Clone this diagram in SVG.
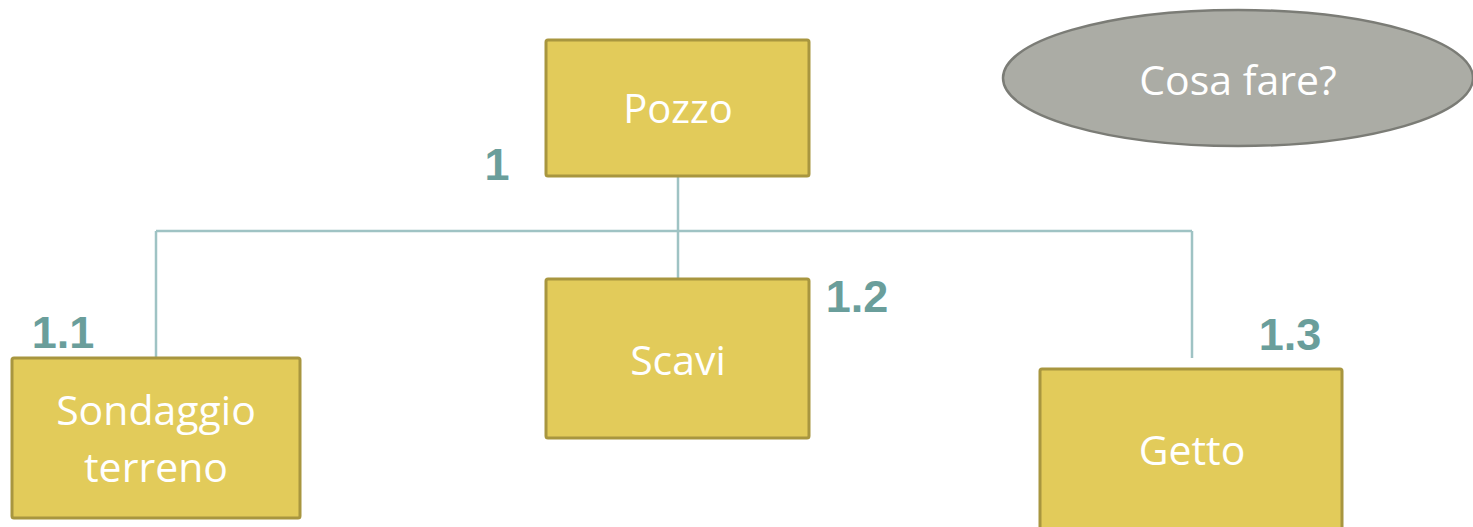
<svg xmlns="http://www.w3.org/2000/svg" width="1473" height="527" viewBox="0 0 1473 527">
  <style>
    .box { fill: #e2cb5a; stroke: #a8963f; stroke-width: 3; }
    .oval { fill: #abaca5; stroke: #7b7c76; stroke-width: 2.5; }
    .t { fill: #ffffff; font-family: "Open Sans", "Noto Sans", sans-serif; font-size: 41px; text-anchor: middle; }
    .num { fill: #6a9e9b; font-family: "Liberation Sans", Arial, sans-serif; font-weight: bold; font-size: 45px; text-anchor: middle; }
    .link { fill: none; stroke: #9fc3c4; stroke-width: 2.5; }
  </style>
  <rect width="1473" height="527" fill="#ffffff"/>

  <!-- tree connectors -->
  <g id="connectors">
    <path class="link" d="M678 177 V278"/>
    <path class="link" d="M156 231 H1192"/>
    <path class="link" d="M156 231 V357"/>
    <path class="link" d="M1192 231 V358"/>
  </g>

  <g id="pozzo">
    <rect class="box" x="546" y="40" width="263" height="136" rx="2"/>
    <text class="t" x="678" y="123" style="font-size:40px">Pozzo</text>
    <text class="num" x="497" y="180">1</text>
  </g>

  <g id="sondaggio">
    <rect class="box" x="12" y="358" width="288" height="160" rx="2"/>
    <text class="t" x="156" y="425">Sondaggio</text>
    <text class="t" x="156" y="482">terreno</text>
    <text class="num" x="63" y="348">1.1</text>
  </g>

  <g id="scavi">
    <rect class="box" x="546" y="279" width="263" height="159" rx="2"/>
    <text class="t" x="678" y="375">Scavi</text>
    <text class="num" x="857" y="312">1.2</text>
  </g>

  <g id="getto">
    <rect class="box" x="1040" y="369" width="302" height="170" rx="2"/>
    <text class="t" x="1192" y="465">Getto</text>
    <text class="num" x="1290" y="350">1.3</text>
  </g>

  <g id="cosa-fare">
    <ellipse class="oval" cx="1238" cy="78" rx="235" ry="68"/>
    <text class="t" x="1238" y="95">Cosa fare?</text>
  </g>
</svg>
